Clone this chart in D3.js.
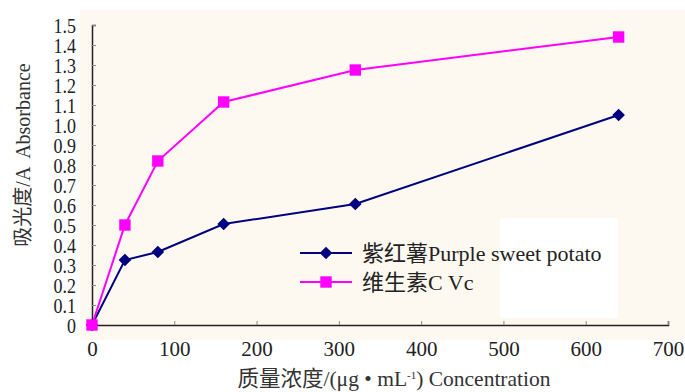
<!DOCTYPE html>
<html><head><meta charset="utf-8">
<script src="https://cdn.jsdelivr.net/npm/d3@7"></script>
<style>html,body{margin:0;padding:0;background:#fff;}svg{display:block;}</style>
</head><body>
<svg id="c" width="685" height="392"></svg>
<script>
const concentrations = [0, 40, 80, 160, 320, 640];
const purpleSweetPotato = [0, 0.325, 0.365, 0.505, 0.605, 1.05];
const vitaminC = [0, 0.50, 0.82, 1.115, 1.275, 1.44];
const yTicks = [0,0.1,0.2,0.3,0.4,0.5,0.6,0.7,0.8,0.9,1.0,1.1,1.2,1.3,1.4,1.5];
const xTicks = [0,100,200,300,400,500,600,700];
const seriesNames = ["紫红薯Purple sweet potato", "维生素C Vc"];

const svg = d3.select("#c");
const font = "'Liberation Serif','Times New Roman','Noto Sans CJK SC',serif";
const x = d3.scaleLinear().domain([0,700]).range([92,668]);
const y = d3.scaleLinear().domain([0,1.5]).range([325,25]);

// backgrounds
svg.append("rect").attr("x",80).attr("y",10).attr("width",605).attr("height",330).attr("fill","#fdf9f0");
svg.append("rect").attr("x",500).attr("y",218).attr("width",118).attr("height",100).attr("fill","#ffffff");

// axes
const yAxis = d3.axisLeft(y).tickValues(yTicks).tickSize(-4).tickPadding(16)
  .tickFormat(d => d===0 ? "0" : d3.format(".1f")(d));
const gy = svg.append("g").attr("transform",`translate(${x(0)},0)`).call(yAxis);
const xAxis = d3.axisBottom(x).tickValues(xTicks).tickSize(-4).tickPadding(16).tickFormat(d3.format("d"));
const gx = svg.append("g").attr("transform",`translate(0,${y(0)})`).call(xAxis);
[gx,gy].forEach(g=>{
  g.select(".domain").attr("stroke","#222").attr("stroke-width",1.5);
  g.selectAll(".tick line").attr("stroke","#888").attr("stroke-width",1);
  g.selectAll(".tick text").attr("font-family",font).attr("font-size",21).attr("fill","#222");
});
gy.selectAll(".tick text").attr("font-size",18).attr("transform","scale(1,1.12)").attr("dy","0.35em")
  .attr("y", function(){ return 0; });
gx.selectAll(".tick text").attr("dy","0.71em");

// titles
svg.append("text").attr("transform","translate(30,155) rotate(-90)").attr("text-anchor","middle")
  .attr("font-family",font).attr("font-size",20).attr("fill","#333").style("white-space","pre")
  .text("吸光度/A  Absorbance");
svg.append("text").attr("x",394).attr("y",386).attr("text-anchor","middle")
  .attr("font-family",font).attr("font-size",21.5).attr("fill","#333")
  .html("质量浓度/(μg • mL<tspan dy='-7' font-size='11'>-1</tspan><tspan dy='7'>) Concentration</tspan>");

// series
const diamond = {draw(ctx, size){ const r = Math.sqrt(size)/Math.SQRT2; ctx.moveTo(0,-r);ctx.lineTo(r,0);ctx.lineTo(0,r);ctx.lineTo(-r,0);ctx.closePath(); }};
const series = [
  {name: seriesNames[0], values: purpleSweetPotato, color:"#000080", symbol:diamond, size:80},
  {name: seriesNames[1], values: vitaminC, color:"#ff00ff", symbol:d3.symbolSquare, size:130}
];
const line = d3.line().x(d=>x(d[0])).y(d=>y(d[1]));
series.forEach(s=>{
  const pts = concentrations.map((c,i)=>[c,s.values[i]]);
  svg.append("path").datum(pts).attr("d",line).attr("fill","none").attr("stroke",s.color).attr("stroke-width",2);
  svg.selectAll(null).data(pts).enter().append("path")
    .attr("d",d3.symbol().type(s.symbol).size(s.size))
    .attr("transform",d=>`translate(${x(d[0])},${y(d[1])})`)
    .attr("fill",s.color);
});

// legend
series.forEach((s,i)=>{
  const ly = 253 + i*29;
  const g = svg.append("g");
  g.append("line").attr("x1",300).attr("x2",352).attr("y1",ly).attr("y2",ly).attr("stroke",s.color).attr("stroke-width",2);
  g.append("path").attr("d",d3.symbol().type(s.symbol).size(s.size)).attr("transform",`translate(326,${ly})`).attr("fill",s.color);
  g.append("text").attr("x",362).attr("y",ly).attr("dy","0.35em").attr("font-family",font).attr("font-size",22)
    .attr("fill","#222").text(s.name);
});
</script>
</body></html>
